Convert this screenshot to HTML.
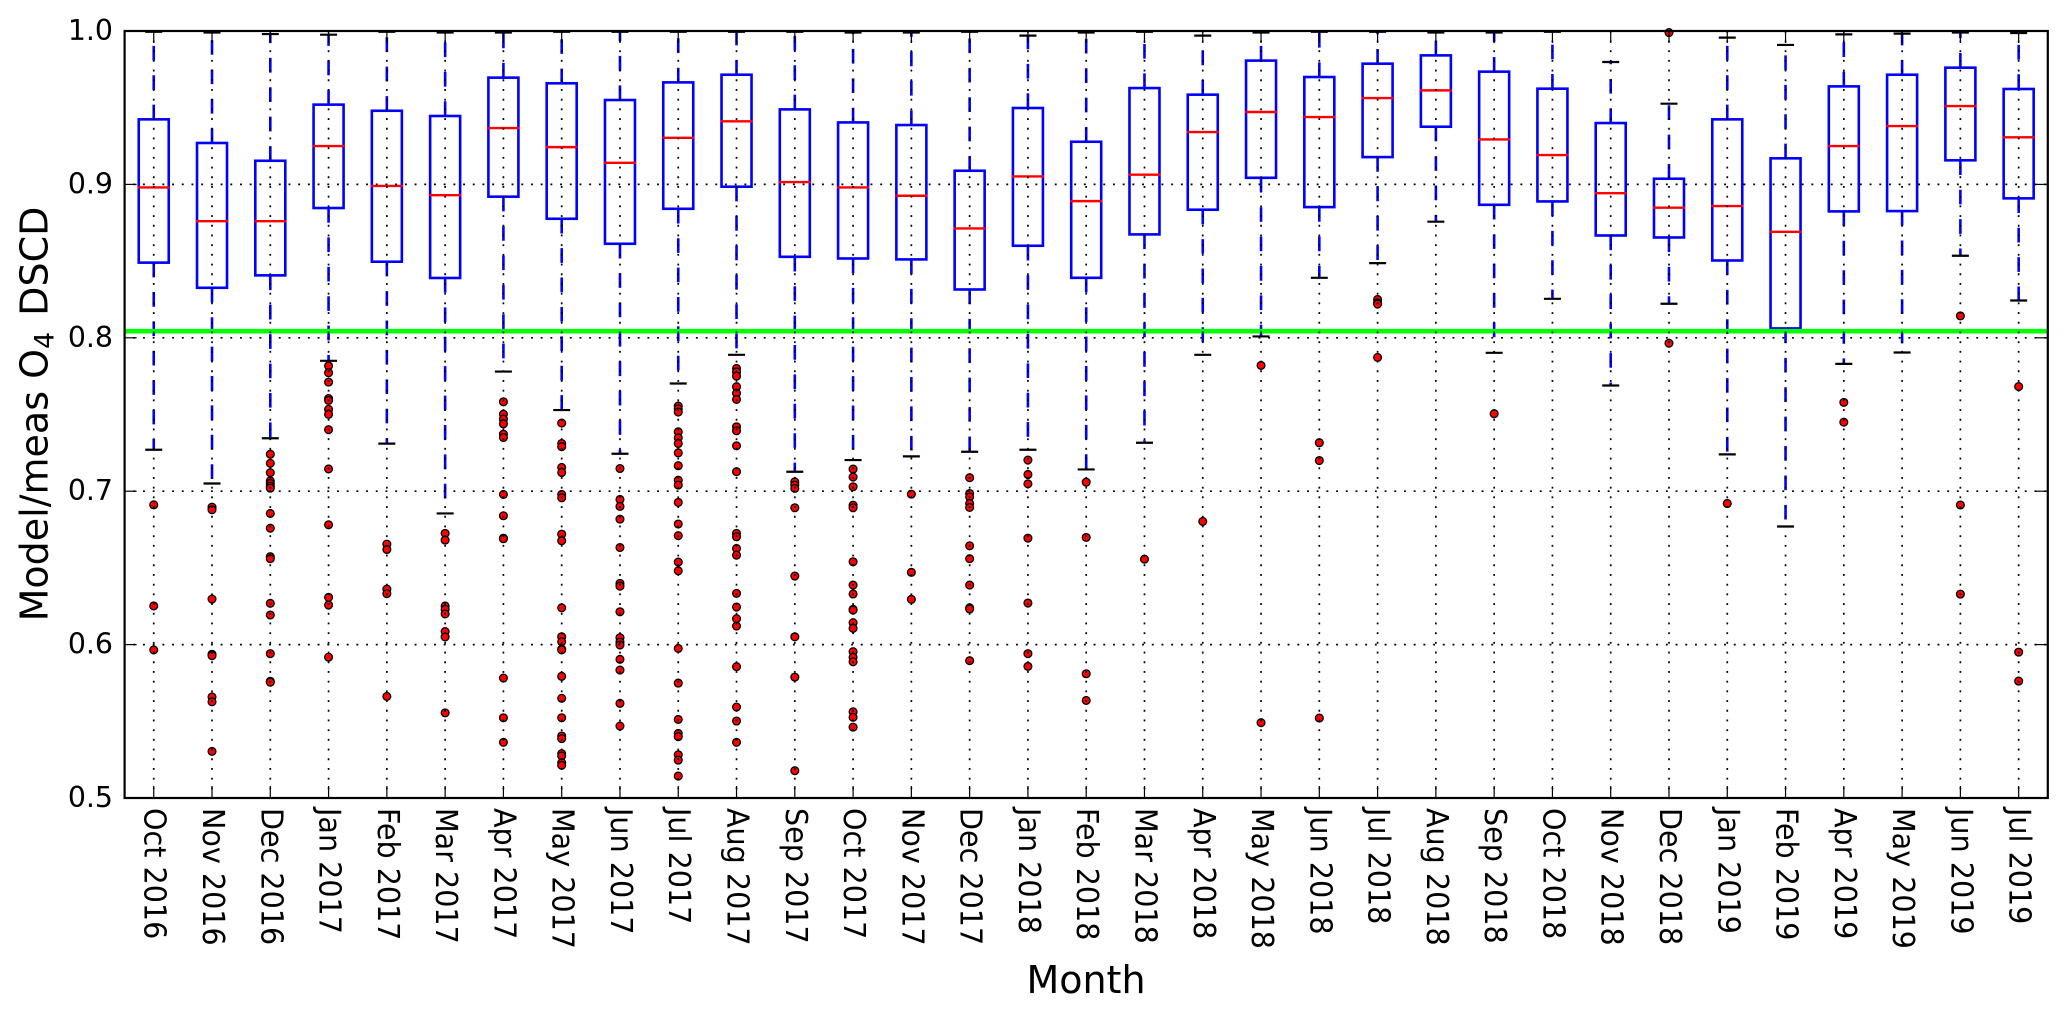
<!DOCTYPE html>
<html lang="en">
<head>
<meta charset="utf-8">
<title>Model/meas O4 DSCD by month</title>
<style>
html,body{margin:0;padding:0;background:#fff;}
svg{display:block;}
text{font-family:"DejaVu Sans","Liberation Sans",sans-serif;fill:#000;}
</style>
</head>
<body>
<svg id="chart" xmlns="http://www.w3.org/2000/svg" width="2067" height="1011" viewBox="0 0 2067 1011">
  <rect x="0" y="0" width="2067" height="1011" fill="#ffffff"/>
  <g id="whiskers"></g>
  <g id="boxes"></g>
  <g id="fliers"></g>
  <g id="reference"></g>
  <g id="grid"></g>
  <g id="ticks"></g>
  <rect x="124.6" y="31" width="1923.2" height="767" fill="none" stroke="#000" stroke-width="2.2"/>
  <g id="labels"></g>
  <text transform="translate(47.5,414) rotate(-90)" text-anchor="middle" font-size="38">Model/meas O<tspan dy="6" font-size="27">4</tspan><tspan dy="-6" dx="16">DSCD</tspan></text>
  <text x="1086" y="993" text-anchor="middle" font-size="38">Month</text>
</svg>
<script>
const months = ["Oct 2016","Nov 2016","Dec 2016","Jan 2017","Feb 2017","Mar 2017","Apr 2017","May 2017","Jun 2017","Jul 2017","Aug 2017","Sep 2017","Oct 2017","Nov 2017","Dec 2017","Jan 2018","Feb 2018","Mar 2018","Apr 2018","May 2018","Jun 2018","Jul 2018","Aug 2018","Sep 2018","Oct 2018","Nov 2018","Dec 2018","Jan 2019","Feb 2019","Apr 2019","May 2019","Jun 2019","Jul 2019"];
const q3Values = [.9424,.927,.9154,.952,.948,.9446,.9696,.9659,.955,.9665,.9715,.9489,.9404,.9387,.9089,.9498,.9278,.9628,.9585,.9807,.97,.9787,.9841,.9735,.9624,.94,.9037,.9424,.917,.9639,.9715,.9761,.9622];
const medianValues = [.898,.876,.876,.925,.899,.893,.9367,.9243,.9141,.9304,.9411,.9015,.898,.8926,.8713,.9052,.8891,.9063,.9341,.9472,.9439,.9563,.9613,.9293,.9191,.8943,.8848,.8859,.8691,.925,.938,.9511,.9307];
const q1Values = [.849,.8326,.8407,.8846,.8496,.839,.892,.8776,.8613,.8841,.8985,.8528,.8517,.8511,.8315,.86,.8391,.8674,.8835,.9043,.8852,.9178,.9376,.8867,.8889,.8667,.8654,.8504,.8061,.8824,.8826,.9157,.8909];
const whiskerLow = [.727,.705,.7345,.785,.731,.6855,.778,.7529,.7244,.7702,.7889,.7127,.7203,.7227,.7257,.727,.7142,.7316,.7889,.8009,.8391,.8487,.8757,.7902,.8254,.7689,.8222,.724,.677,.783,.7904,.8535,.8243];
const whiskerHigh = [.9995,.999,.998,.9976,.9995,.999,.999,.9995,.9995,.9995,.9995,.9995,.999,.999,.9995,.997,.999,.9995,.997,.999,.9995,.9995,.999,.999,.9995,.9798,.9526,.9957,.9909,.9978,.9983,.999,.9987];
const outliers = [
  [.6911,.6252,.5965],
  [.6896,.6879,.6297,.5937,.5928,.5659,.5627,.5304],
  [.7241,.7182,.7121,.7067,.705,.7033,.702,.6855,.6759,.6573,.656,.6269,.6193,.5941,.5761,.5755],
  [.7817,.7772,.7711,.7604,.7592,.7534,.7501,.7401,.7145,.6781,.6308,.6258,.5918],
  [.6655,.662,.6362,.6332,.5662],
  [.6725,.6681,.6252,.623,.62,.6085,.605,.5555],
  [.7583,.7502,.747,.7439,.7372,.735,.6979,.684,.6694,.669,.5782,.5523,.5363],
  [.7444,.7311,.729,.7155,.7122,.6979,.6957,.672,.6677,.624,.6051,.6019,.5971,.5965,.5793,.565,.5523,.5404,.5387,.5289,.5274,.523,.5213],
  [.7148,.6946,.6901,.6818,.6633,.6399,.6381,.6214,.6045,.6016,.5997,.5904,.5834,.5617,.5469],
  [.7555,.7537,.7516,.7387,.7348,.7311,.725,.7166,.7072,.704,.6927,.6786,.671,.6538,.6481,.5975,.5749,.5512,.5421,.54,.5282,.5247,.5143],
  [.78,.7778,.775,.7681,.7639,.7598,.742,.7394,.7296,.7127,.6725,.6703,.6627,.6583,.6334,.6245,.6169,.6121,.5856,.5593,.5502,.5363],
  [.7061,.704,.7018,.6892,.6447,.6051,.5788,.5178],
  [.7144,.7092,.7029,.6909,.6892,.654,.6388,.633,.623,.6225,.6143,.6106,.5954,.5917,.5888,.5562,.5526,.5462],
  [.6981,.6471,.6295],
  [.7088,.6985,.6962,.692,.6894,.6644,.656,.6388,.624,.6232,.5895],
  [.7203,.7109,.7048,.6694,.6271,.5941,.5858],
  [.7059,.6699,.581,.5636],
  [.6557],
  [.6803],
  [.782,.5491],
  [.7316,.72,.5521],
  [.825,.8228,.822,.7872],
  [],
  [.7505],
  [],
  [],
  [.999,.7965],
  [.692],
  [],
  [.7579,.745],
  [],
  [.8143,.691,.6329],
  [.7682,.5951,.5762]
];
const yTickValues = [0.5,0.6,0.7,0.8,0.9,1.0];
const yTickLabels = ["0.5","0.6","0.7","0.8","0.9","1.0"];
const referenceValue = 0.8043;

const SVGNS = "http://www.w3.org/2000/svg";
const plotLeft = 124.6, plotRight = 2047.8, plotTop = 31, plotBottom = 798;
const xDomainMin = 0.5, xDomainMax = 33.5, yDomainMin = 0.5, yDomainMax = 1.0;
function xScale(position) {
  return plotLeft + (position - xDomainMin) / (xDomainMax - xDomainMin) * (plotRight - plotLeft);
}
function yScale(value) {
  return plotBottom - (value - yDomainMin) / (yDomainMax - yDomainMin) * (plotBottom - plotTop);
}
function make(tag, props, parent) {
  const el = document.createElementNS(SVGNS, tag);
  for (const k in props) el.setAttribute(k, props[k]);
  parent.appendChild(el);
  return el;
}
const whiskersG = document.getElementById("whiskers");
const boxesG = document.getElementById("boxes");
const fliersG = document.getElementById("fliers");
const referenceG = document.getElementById("reference");
const gridG = document.getElementById("grid");
const ticksG = document.getElementById("ticks");
const labelsG = document.getElementById("labels");
const boxWidth = 30, capWidth = 17;

months.forEach(function (month, i) {
  const cx = xScale(i + 1);
  const slug = month.toLowerCase().replace(" ", "-");

  const whiskerUp = make("line", {x1: cx, x2: cx, y1: yScale(q3Values[i]), y2: yScale(whiskerHigh[i]), stroke: "#0000ff", "stroke-width": 2.6, "stroke-dasharray": "14.7 14.7"}, whiskersG);
  
  

  const whiskerDown = make("line", {x1: cx, x2: cx, y1: yScale(q1Values[i]), y2: yScale(whiskerLow[i]), stroke: "#0000ff", "stroke-width": 2.6, "stroke-dasharray": "14.7 14.7"}, whiskersG);
  
  

  const capHigh = make("line", {x1: cx - capWidth / 2, x2: cx + capWidth / 2, y1: yScale(whiskerHigh[i]), y2: yScale(whiskerHigh[i]), stroke: "#000", "stroke-width": 2.2}, whiskersG);
  
  

  const capLow = make("line", {x1: cx - capWidth / 2, x2: cx + capWidth / 2, y1: yScale(whiskerLow[i]), y2: yScale(whiskerLow[i]), stroke: "#000", "stroke-width": 2.2}, whiskersG);
  
  

  const box = make("rect", {x: cx - boxWidth / 2, y: yScale(q3Values[i]), width: boxWidth, height: yScale(q1Values[i]) - yScale(q3Values[i]), fill: "none", stroke: "#0000ff", "stroke-width": 2.6}, boxesG);
  
  

  const median = make("line", {x1: cx - boxWidth / 2 - 1, x2: cx + boxWidth / 2 + 1, y1: yScale(medianValues[i]), y2: yScale(medianValues[i]), stroke: "#ff0000", "stroke-width": 2.4}, boxesG);
  
  

  outliers[i].forEach(function (value, j) {
    const dot = make("circle", {cx: cx, cy: yScale(value), r: 3.9, fill: "#ff0000", stroke: "#000", "stroke-width": 1.3}, fliersG);
    
    
  });

  const vGrid = make("line", {x1: cx, x2: cx, y1: plotBottom, y2: plotTop, stroke: "#000", "stroke-width": 1.7, "stroke-dasharray": "1.9 7.8", "stroke-dashoffset": 1}, gridG);
  
  

  const tickBottom = make("line", {x1: cx, x2: cx, y1: plotBottom, y2: plotBottom - 12, stroke: "#000", "stroke-width": 1.2}, ticksG);
  
  

  const tickTop = make("line", {x1: cx, x2: cx, y1: plotTop, y2: plotTop + 12, stroke: "#000", "stroke-width": 1.2}, ticksG);
  
  

  const label = make("text", {transform: "translate(" + (cx - 9) + ",808) rotate(90) scale(1,1.07)", "font-size": 28.6}, labelsG);
  
  
  label.textContent = month;
});

const refLine = make("line", {x1: plotLeft, x2: plotRight, y1: yScale(referenceValue), y2: yScale(referenceValue), stroke: "#00ff00", "stroke-width": 4.6}, referenceG);



yTickValues.forEach(function (value, i) {
  const y = yScale(value);

  if (value > yDomainMin && value < yDomainMax) {
    const hGrid = make("line", {x1: plotLeft, x2: plotRight, y1: y, y2: y, stroke: "#000", "stroke-width": 1.7, "stroke-dasharray": "1.9 7.8", "stroke-dashoffset": 1}, gridG);
    
    
  }

  const tickLeft = make("line", {x1: plotLeft, x2: plotLeft + 12, y1: y, y2: y, stroke: "#000", "stroke-width": 1.2}, ticksG);
  
  

  const tickRight = make("line", {x1: plotRight, x2: plotRight - 12, y1: y, y2: y, stroke: "#000", "stroke-width": 1.2}, ticksG);
  
  

  const label = make("text", {x: 113, y: y + 9, "text-anchor": "end", "font-size": 28.4}, labelsG);
  
  
  label.textContent = yTickLabels[i];
});
</script>
</body>
</html>
